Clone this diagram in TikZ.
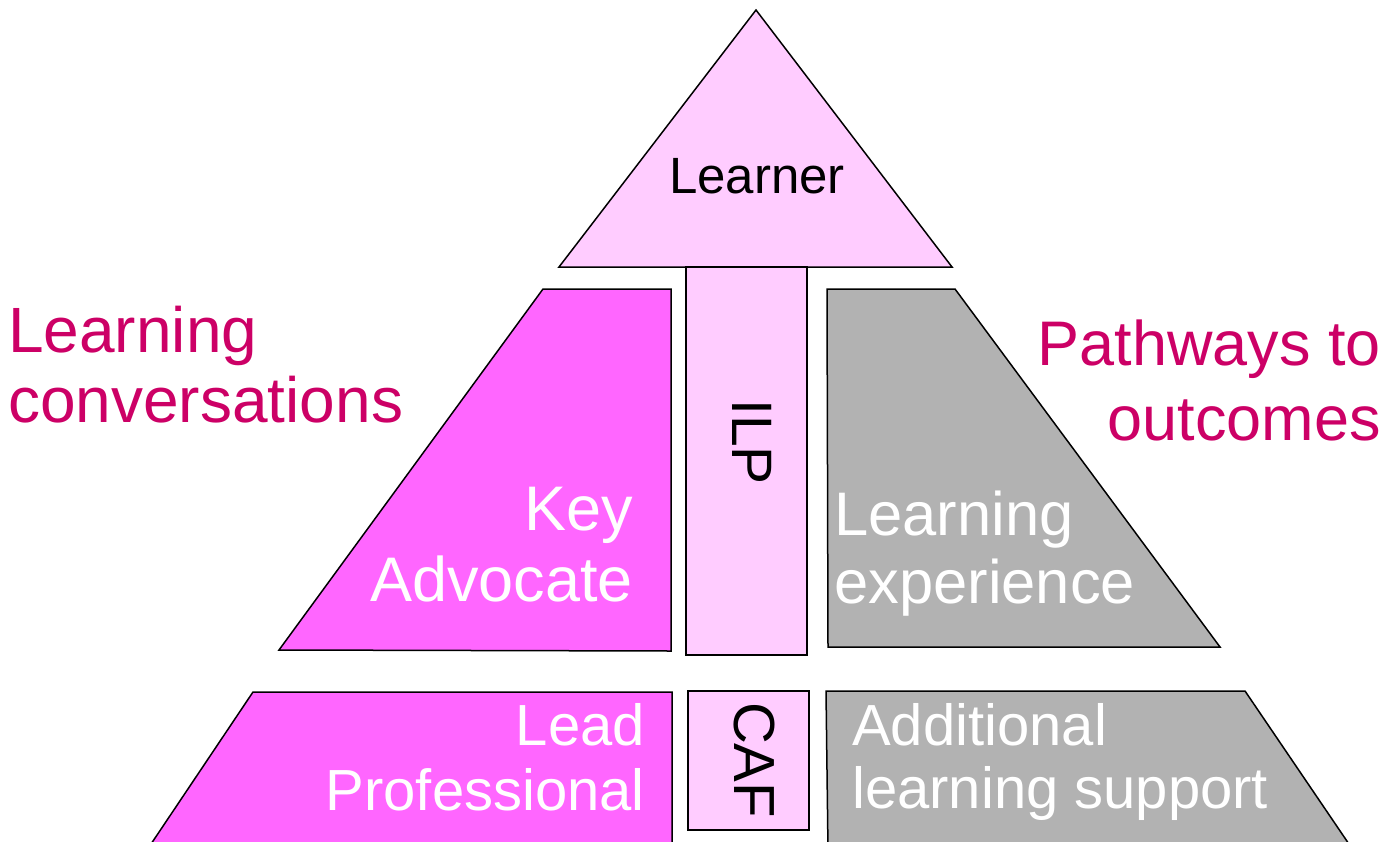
\documentclass[tikz,border=0pt]{standalone}
\usepackage{fontspec}
\setmainfont{Liberation Sans}
\usepackage{tikz}
\definecolor{palepink}{HTML}{FFCCFF}
\definecolor{brightpink}{HTML}{FF66FF}
\definecolor{midgrey}{HTML}{B2B2B2}
\definecolor{plum}{HTML}{CC0066}

\begin{document}
\begin{tikzpicture}[x=1pt,y=-1pt,line join=miter,
    block/.style={draw=black,line width=1.5pt},
    lbl/.style={inner sep=0pt,text=white},
    side/.style={inner sep=0pt,text=plum,font=\fontsize{63}{72}\selectfont}]
  \useasboundingbox (0,0) rectangle (1400,841);

  \draw[block,fill=palepink] (756,10) -- (559,267) -- (952,267) -- cycle;
  \draw[block,fill=palepink] (686,267) rectangle (807,655);
  \draw[block,fill=brightpink] (543,289) -- (671,289) -- (671,651) -- (279,650) -- cycle;
  \draw[block,fill=midgrey] (827,289) -- (955,289) -- (1220,647) -- (828,647) -- cycle;

  \draw[block,fill=brightpink] (253,692) -- (672,692) -- (672,850) -- (147,850) -- cycle;
  \draw[block,fill=palepink] (688,691) rectangle (809,830);
  \draw[block,fill=midgrey] (826,691) -- (1245,691) -- (1353,850) -- (828,850) -- cycle;

  \node[inner sep=0pt,anchor=base,font=\fontsize{51}{60}\selectfont] (learner) at (757,193) {Learner};
  \node[inner sep=0pt,rotate=-90,font=\fontsize{57}{68}\selectfont] (ilp) at (752,442) {ILP};
  \node[inner sep=0pt,rotate=-90,font=\fontsize{58}{68}\selectfont] (caf) at (754,760) {CAF};

  \node[side,align=left,anchor=north west,font=\fontsize{64}{70}\selectfont] (talk) at (8,306) {Learning\\conversations};
  \node[side,align=right,anchor=north east,font=\fontsize{63}{75}\selectfont] (paths) at (1381,320) {Pathways to\\outcomes};

  \node[lbl,align=right,anchor=north east,font=\fontsize{63}{71}\selectfont] (advocate) at (633,487) {Key\\Advocate};
  \node[lbl,align=left,anchor=north west,font=\fontsize{61.5}{68}\selectfont] (experience) at (834,491) {Learning\\experience};
  \node[lbl,align=right,anchor=north east,font=\fontsize{58}{65}\selectfont] (lead) at (645,703) {Lead\\Professional};
  \node[lbl,align=left,anchor=north west,font=\fontsize{58}{63}\selectfont] (support) at (852,703) {Additional\\learning support};
\end{tikzpicture}
\end{document}
